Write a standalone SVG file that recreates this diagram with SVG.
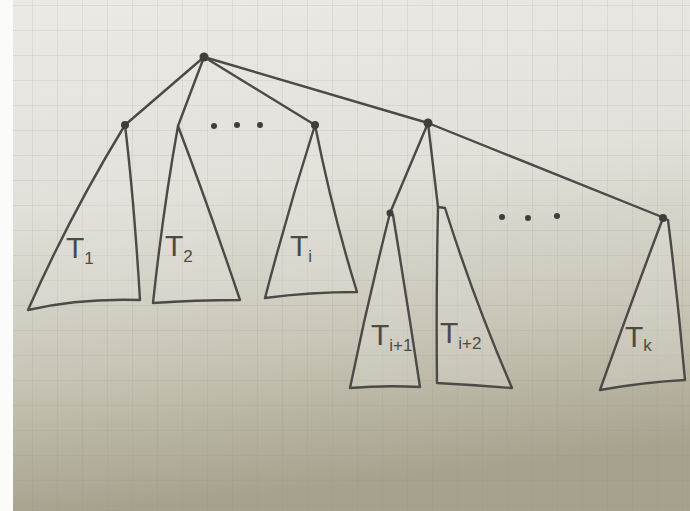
<svg xmlns="http://www.w3.org/2000/svg" width="690" height="511" viewBox="0 0 690 511">
<defs>
<linearGradient id="paper" x1="0" y1="0" x2="0.15" y2="1">
<stop offset="0" stop-color="#eceae5"/>
<stop offset="0.4" stop-color="#e2e0d9"/>
<stop offset="0.72" stop-color="#c9c6b8"/>
<stop offset="1" stop-color="#a6a28d"/>
</linearGradient>
<pattern id="grid" width="25" height="25" patternUnits="userSpaceOnUse" x="8" y="6">
<path d="M25 0V25M0 25H25" fill="none" stroke="#8f8c80" stroke-opacity="0.28" stroke-width="1"/>
</pattern>
<style>
.ink{fill:none;stroke:#4b4a46;stroke-width:2.4;stroke-linecap:round;stroke-linejoin:round}
.tri{fill:#e6e4dd;fill-opacity:0.3;stroke:#4b4a46;stroke-width:2.4;stroke-linejoin:round}
.dot{fill:#3f3e3a}
.lbl{font-family:"Liberation Sans",Arial,sans-serif;font-size:30px;fill:#4b4a46}
.sub{font-size:17px}
</style>
</defs>
<rect width="690" height="511" fill="url(#paper)"/>
<rect width="690" height="511" fill="url(#grid)"/>
<rect x="0" y="0" width="13" height="511" fill="#fbfbfa"/>
<g id="connectors">
<path class="ink" d="M204 57 L125 125"/>
<path class="ink" d="M204 57 L178 126"/>
<path class="ink" d="M204 57 L315 125"/>
<path class="ink" d="M204 57 L428 123 L662 217"/>
<path class="ink" d="M428 123 L390 213"/>
<path class="ink" d="M428 123 L438 207"/>
</g>
<g id="dots">
<circle class="dot" cx="214" cy="126" r="3"/>
<circle class="dot" cx="237" cy="125" r="3"/>
<circle class="dot" cx="260" cy="125" r="3"/>
<circle class="dot" cx="502" cy="217" r="3"/>
<circle class="dot" cx="528" cy="218" r="3"/>
<circle class="dot" cx="557" cy="216" r="3"/>
</g>
<g id="root"><circle class="dot" cx="204" cy="57" r="4.5"/></g>
<g id="T1">
<path class="tri" d="M125 125 Q70 215 28 310 Q80 298 140 300 Q134 200 125 125 Z"/>
<circle class="dot" cx="125" cy="125" r="4"/>
<text class="lbl" x="66" y="258">T<tspan class="sub" dy="6">1</tspan></text>
</g>
<g id="T2">
<path class="tri" d="M178 126 Q163 210 153 303 Q195 300 240 300 Q208 205 178 126 Z"/>
<text class="lbl" x="165" y="256">T<tspan class="sub" dy="6">2</tspan></text>
</g>
<g id="Ti">
<path class="tri" d="M315 125 Q288 210 265 298 Q310 292 357 292 Q333 215 315 125 Z"/>
<circle class="dot" cx="315" cy="125" r="4"/>
<text class="lbl" x="290" y="256">T<tspan class="sub" dy="6">i</tspan></text>
</g>
<g id="Ti_internal"><circle class="dot" cx="428" cy="123" r="4.5"/></g>
<g id="Ti1">
<path class="tri" d="M390 213 Q368 300 350 388 Q385 385 420 387 Q407 300 393 215 Z"/>
<circle class="dot" cx="390" cy="213" r="3.5"/>
<text class="lbl" x="371" y="345">T<tspan class="sub" dy="6">i+1</tspan></text>
</g>
<g id="Ti2">
<path class="tri" d="M438 207 Q436 300 437 383 Q475 385 512 388 Q474 300 445 208 Z"/>
<text class="lbl" x="440" y="343">T<tspan class="sub" dy="6">i+2</tspan></text>
</g>
<g id="Tk">
<path class="tri" d="M663 218 Q632 300 600 390 Q645 382 685 380 Q678 300 668 220 Z"/>
<circle class="dot" cx="663" cy="218" r="4"/>
<text class="lbl" x="625" y="347">T<tspan class="sub" dy="4">k</tspan></text>
</g>
</svg>
